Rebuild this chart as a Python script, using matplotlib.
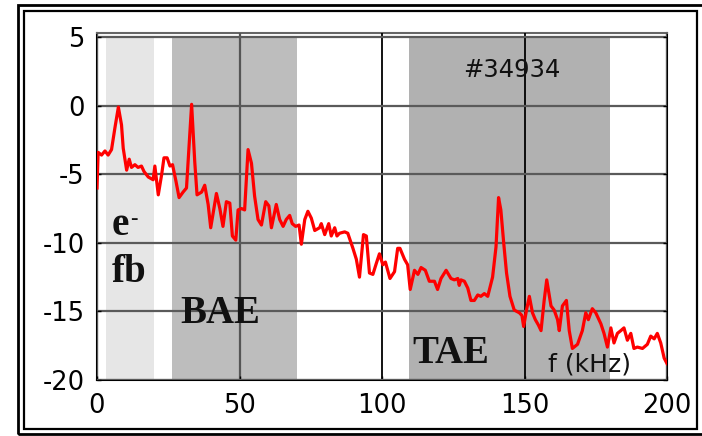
import matplotlib
matplotlib.use("Agg")
import matplotlib.pyplot as plt
from matplotlib.patches import Rectangle

# Spectrum (arb. log units) versus frequency in kHz
freq_khz = [0.0, 0.4, 1.6, 2.8, 3.9, 5.1, 6.3, 7.5, 8.6, 9.2, 10.4, 11.3, 12.1, 13.3, 14.4,
            15.6, 16.5, 18.0, 19.7, 20.3, 21.5, 22.7, 23.5, 24.6, 25.6, 26.5, 27.7, 28.8,
            30.2, 31.4, 33.2, 34.3, 35.1, 36.7, 37.8, 39.0, 39.9, 41.0, 41.9, 43.1, 44.2,
            45.4, 46.6, 47.5, 48.7, 49.5, 50.7, 51.8, 53.0, 54.2, 55.3, 56.5, 57.7, 59.2,
            60.3, 61.2, 62.9, 64.1, 65.3, 66.4, 67.6, 68.5, 69.7, 70.9, 71.7, 72.9, 74.0,
            75.2, 76.4, 78.1, 78.7, 79.9, 81.3, 82.2, 83.4, 84.2, 85.1, 86.9, 88.0, 89.8,
            91.0, 92.1, 93.5, 94.5, 95.6, 96.8, 98.0, 99.1, 100.3, 101.2, 102.8, 104.4,
            105.5, 106.3, 107.9, 109.0, 109.9, 111.4, 112.6, 113.7, 115.2, 116.6, 118.4,
            119.5, 120.7, 122.5, 124.2, 125.4, 126.6, 127.1, 127.7, 128.9, 130.1, 131.2,
            132.4, 133.6, 134.7, 135.9, 137.1, 138.8, 140.0, 140.9, 141.7, 142.7, 143.7,
            144.9, 146.4, 148.2, 149.1, 149.7, 150.7, 151.7, 152.8, 153.8, 154.9, 155.8,
            156.9, 157.8, 159.3, 160.4, 161.6, 162.2, 163.3, 164.7, 165.7, 166.8, 168.6,
            170.3, 171.5, 172.4, 173.8, 175.0, 176.8, 177.9, 179.1, 180.3, 181.4, 182.6,
            183.8, 184.9, 186.1, 187.3, 188.4, 189.6, 191.4, 193.1, 194.3, 195.5, 196.6,
            197.8, 199.0, 200.0]
amplitude = [-6.0, -3.4, -3.6, -3.3, -3.6, -3.2, -1.6, -0.1, -1.4, -3.1, -4.7, -3.9, -4.5, -4.3,
             -4.5, -4.4, -4.8, -5.2, -5.4, -4.4, -6.5, -5.0, -3.8, -3.8, -4.4, -4.3, -5.5, -6.7,
             -6.3, -6.0, 0.1, -4.1, -6.5, -6.3, -5.8, -7.2, -8.9, -7.5, -6.4, -7.5, -8.8,
             -7.0, -7.1, -9.5, -9.8, -7.6, -7.5, -7.6, -3.2, -4.2, -6.6, -8.3, -8.7, -7.0,
             -7.3, -8.9, -7.2, -8.3, -8.8, -8.3, -8.0, -8.6, -8.8, -8.7, -10.1, -8.3, -7.7,
             -8.2, -9.1, -8.9, -8.6, -9.4, -8.6, -9.5, -8.9, -9.5, -9.3, -9.2, -9.3, -10.4,
             -11.2, -12.5, -9.4, -9.5, -12.2, -12.3, -11.5, -10.8, -11.6, -11.4, -12.6, -12.1,
             -10.4, -10.4, -11.2, -11.6, -13.4, -12.0, -12.3, -11.8, -12.0, -12.8, -12.8,
             -13.4, -12.6, -12.0, -12.6, -12.7, -12.6, -13.1, -12.7, -12.8, -13.3, -14.2,
             -14.2, -13.8, -13.9, -13.7, -13.9, -12.5, -10.3, -6.7, -7.6, -10.0, -12.2,
             -13.9, -14.9, -15.1, -15.3, -16.1, -14.9, -13.9, -15.1, -15.6, -16.0, -16.4,
             -14.2, -12.7, -14.6, -14.9, -15.6, -16.4, -14.6, -14.2, -16.4, -17.7, -17.4,
             -16.4, -15.1, -15.6, -14.8, -15.1, -15.9, -16.6, -17.6, -16.2, -17.3, -16.6,
             -16.4, -16.2, -17.1, -16.6, -17.7, -17.6, -17.7, -17.4, -16.8, -17.0, -16.6,
             -17.3, -18.4, -18.8]

# Frequency bands of the mode families (kHz)
band_names = ["e- fb", "BAE", "TAE"]
band_lo = [3.2, 26.3, 109.5]
band_hi = [20.0, 70.0, 180.0]
band_colors = ["#e6e6e6", "#bdbdbd", "#b1b1b1"]

x_ticks = [0, 50, 100, 150, 200]
y_ticks = [-20, -15, -10, -5, 0, 5]
shot_label = "#34934"
x_label = "f (kHz)"

fig = plt.figure(figsize=(7.02, 4.36), dpi=100)
ax = fig.add_axes([97 / 702, 56 / 436, 570 / 702, 347 / 436])
ax.set_xlim(0, 200)
ax.set_ylim(-20, 5.3)

for lo, hi, c in zip(band_lo, band_hi, band_colors):
    ax.fill_between([lo, hi], -20, 5, color=c, lw=0, zorder=0)

ax.set_xticks(x_ticks)
ax.set_yticks(y_ticks)
ax.set_xticklabels([str(t) for t in x_ticks])
ax.set_yticklabels([str(t) for t in y_ticks])
ax.tick_params(direction="in", length=3, width=1, top=False, right=True,
               labelsize=18.5, pad=9)
for lab in ax.get_xticklabels() + ax.get_yticklabels():
    lab.set_fontfamily("DejaVu Sans")

ax.grid(True, zorder=1)
for t, gl in zip(x_ticks, ax.get_xgridlines()):
    if t in (100, 150):
        gl.set_color("black")
        gl.set_linewidth(1.3)
    else:
        gl.set_color("#555555")
        gl.set_linewidth(1.6)
for gl in ax.get_ygridlines():
    gl.set_color("#5a5a5a")
    gl.set_linewidth(1.6)
ax.set_axisbelow(False)

for side in ("left", "bottom", "right"):
    ax.spines[side].set_color("black")
    ax.spines[side].set_linewidth(1.5)
ax.spines["top"].set_color("#666666")
ax.spines["top"].set_linewidth(1.5)

ax.plot(freq_khz, amplitude, color="#ff0000", lw=2.3, zorder=3,
        solid_joinstyle="round")

serif = dict(family="Liberation Serif", weight="bold", fontsize=28, color="#111111")
ax.text(5.3, -9.4, "e", va="baseline", ha="left", zorder=4, **serif)
ax.text(11.6, -8.6, "-", va="baseline", ha="left", zorder=4,
        family="Liberation Serif", weight="bold", fontsize=16, color="#111111")
ax.text(5.3, -12.85, "fb", va="baseline", ha="left", zorder=4, **serif)
ax.text(29.1, -15.85, "BAE", va="baseline", ha="left", zorder=4, **serif)
ax.text(110.7, -18.75, "TAE", va="baseline", ha="left", zorder=4, **serif)

ax.text(145.4, 2.6, shot_label, ha="center", va="center", fontsize=17.5,
        family="DejaVu Sans", color="#111111", zorder=4)
ax.text(158.3, -19.4, x_label, ha="left", va="baseline", fontsize=18,
        family="DejaVu Sans", color="#111111", zorder=4)

# Double frame around the figure
W, H = 702, 436
fig.add_artist(Rectangle((18 / W, 2 / H), 700 / W, 429 / H, transform=fig.transFigure,
                         fill=False, ec="black", lw=2.0))
fig.add_artist(Rectangle((24 / W, 7 / H), 673 / W, 418 / H, transform=fig.transFigure,
                         fill=False, ec="black", lw=1.6))

fig.savefig("out.png", dpi=100)
